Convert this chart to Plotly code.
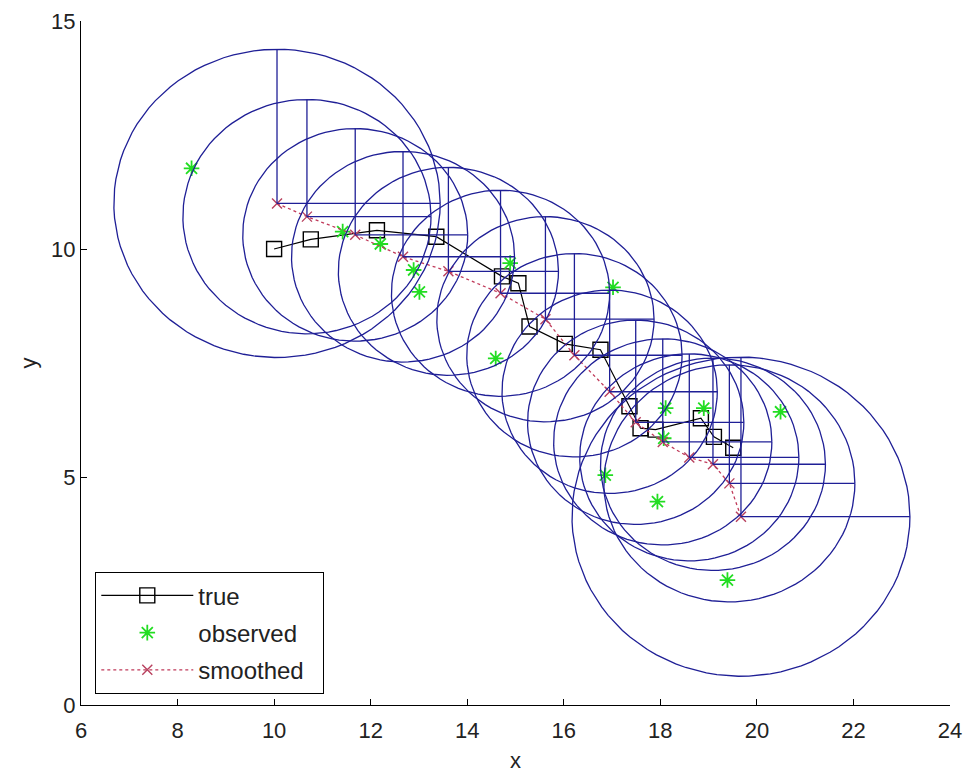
import numpy as np
import plotly.graph_objects as go

# true trajectory
true_x = [10.00, 10.76, 12.13, 13.36, 14.72, 15.06, 15.29, 16.02, 16.76, 17.36, 17.59, 17.90, 18.84, 19.11, 19.51]
true_y = [10.00, 10.21, 10.41, 10.27, 9.40, 9.25, 8.30, 7.92, 7.79, 6.55, 6.07, 6.04, 6.29, 5.88, 5.64]

# noisy observations
obs_x = [8.29, 11.42, 12.20, 12.89, 14.89, 13.01, 14.59, 17.02, 18.11, 16.86, 18.07, 17.94, 18.90, 19.39, 20.49]
obs_y = [11.77, 10.38, 10.11, 9.54, 9.69, 9.06, 7.60, 9.16, 6.51, 5.04, 5.85, 4.46, 6.51, 2.74, 6.43]

# smoothed estimates and the radius of each covariance ellipse
smooth_x = [10.06, 10.68, 11.68, 12.67, 13.61, 14.69, 15.62, 16.22, 16.95, 17.49, 18.05, 18.60, 19.09, 19.43, 19.67]
smooth_y = [11.00, 10.71, 10.31, 9.83, 9.51, 9.03, 8.46, 7.67, 6.87, 6.20, 5.77, 5.43, 5.28, 4.86, 4.13]
radius = [3.38, 2.57, 2.33, 2.31, 2.28, 2.26, 2.25, 2.23, 2.23, 2.24, 2.26, 2.27, 2.33, 2.60, 3.50]

x_ticks = [6, 8, 10, 12, 14, 16, 18, 20, 22, 24]
y_ticks = [0, 5, 10, 15]

FONT = "Liberation Sans, Arial, sans-serif"
TEXT_COLOR = "#222"
ELLIPSE_COLOR = "#1f1f96"

# ellipse outlines plus their two principal axes (up and right)
theta = np.linspace(0, 2 * np.pi, 100)
ell_x, ell_y = [], []
for cx, cy, r in zip(smooth_x, smooth_y, radius):
    ell_x += list(cx + r * np.cos(theta)) + [None]
    ell_y += list(cy + r * np.sin(theta)) + [None]
    ell_x += [cx, cx, None, cx, cx + r, None]
    ell_y += [cy, cy + r, None, cy, cy, None]

fig = go.Figure()

fig.add_trace(go.Scatter(
    x=true_x, y=true_y, mode="lines+markers", name="true", legendgroup="a",
    line=dict(color="black", width=1.2),
    marker=dict(symbol="square-open", size=15, color="black", line=dict(width=1.4)),
))
fig.add_trace(go.Scatter(
    x=obs_x, y=obs_y, mode="markers", name="observed", legendgroup="b",
    marker=dict(symbol="asterisk-open", size=13, color="#22dd22", line=dict(width=1.8, color="#22dd22")),
))
fig.add_trace(go.Scatter(
    x=smooth_x, y=smooth_y, mode="lines+markers", name="smoothed\u00a0\u00a0", legendgroup="c",
    line=dict(color="#c03a5a", width=1.3, dash="dot"),
    marker=dict(symbol="x-thin-open", size=10, color="#b8405e", line=dict(width=1.4, color="#b8405e")),
))
fig.add_trace(go.Scatter(
    x=ell_x, y=ell_y, mode="lines", showlegend=False, hoverinfo="skip",
    line=dict(color=ELLIPSE_COLOR, width=1.3),
))

axis_common = dict(
    showgrid=False, zeroline=False, showline=True, linecolor="black", linewidth=1.3,
    ticks="inside", ticklen=6, tickwidth=1.3, tickcolor="black", mirror=False,
    automargin=False,
    tickfont=dict(family=FONT, size=22, color=TEXT_COLOR),
)

fig.update_layout(
    width=964, height=773,
    margin=dict(l=81, r=14, t=21, b=68),
    paper_bgcolor="white", plot_bgcolor="white",
    font=dict(family=FONT, size=22, color=TEXT_COLOR),
    xaxis=dict(range=[6, 24], tickvals=x_ticks, ticklabelstandoff=5,
               title=dict(text="x", standoff=14, font=dict(family=FONT, size=22, color=TEXT_COLOR)),
               **axis_common),
    yaxis=dict(range=[0, 15], tickvals=y_ticks,
               title=dict(text="y", standoff=8, font=dict(family=FONT, size=22, color=TEXT_COLOR)),
               **axis_common),
    legend=dict(
        x=0.0161, y=0.0161, xanchor="left", yanchor="bottom",
        bgcolor="white", bordercolor="black", borderwidth=1.3,
        font=dict(family=FONT, size=24, color=TEXT_COLOR),
        itemwidth=92, tracegroupgap=3, traceorder="grouped",
    ),
)

fig.write_html("out.html")
